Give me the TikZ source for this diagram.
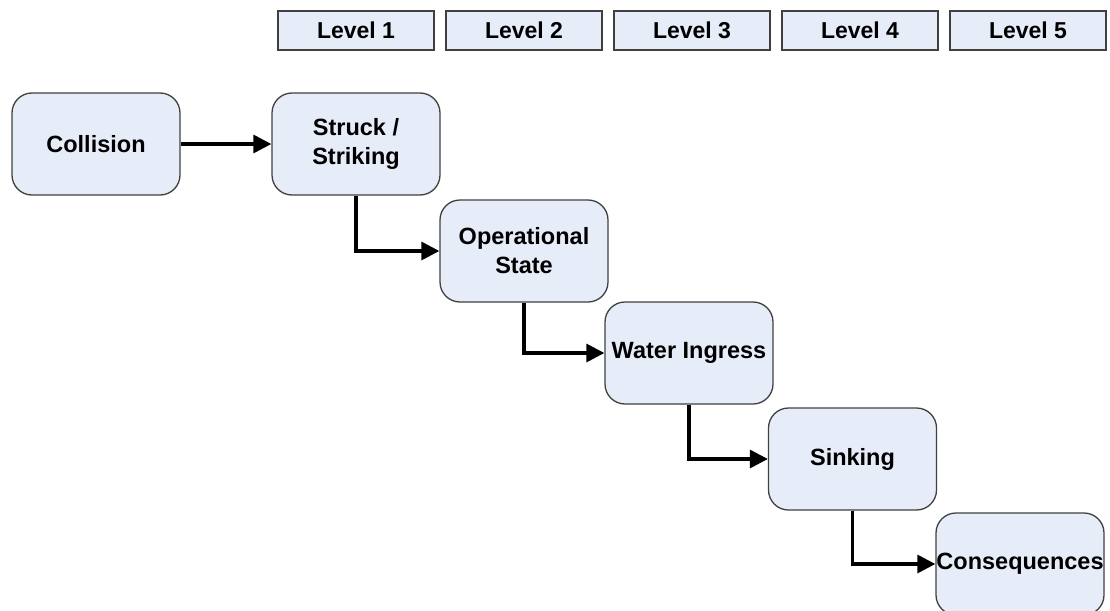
\documentclass[tikz,border=0pt]{standalone}
\usepackage{fontspec}
\setmainfont{Liberation Sans}
\usetikzlibrary{arrows.meta,positioning}
\definecolor{boxfill}{RGB}{231,237,248}
\definecolor{boxline}{RGB}{64,64,64}

\begin{document}
\begin{tikzpicture}[x=1pt,y=-1pt,
	stage/.style={draw=boxline, line width=1.3pt, fill=boxfill, rounded corners=20pt, minimum width=168pt, minimum height=102pt, align=center, inner sep=0pt, font=\fontsize{23.5}{29}\selectfont\bfseries},
	level/.style={draw=boxline, line width=1.4pt, fill=boxfill, minimum width=156pt, minimum height=39pt, inner sep=0pt, font=\fontsize{23}{27}\selectfont\bfseries},
	flow/.style={line width=3.2pt, -{Triangle[length=18pt,width=18pt]}}]
	\useasboundingbox (0,0) rectangle (1110,610);
	\clip (0,0) rectangle (1110,610);

	% level headers
	\foreach \i in {1,...,5}
		\node [level] (lev\i) at (356+168*\i-168,30.5) {Level \i};

	\node [stage] (collision) at (96,144) {Collision};
	\node [stage] (struck) at (356,144) {Struck /\\Striking};
	\node [stage] (oper) at (524,251) {Operational\\State};
	\node [stage] (water) at (689,353) {Water Ingress};
	\node [stage] (sinking) at (852.5,459) {Sinking};
	\node [stage] (conseq) at (1020,564) {Consequences};

	\draw [flow] (collision) -- (struck);
	\draw [flow] (struck.south) |- (oper.west);
	\draw [flow] (oper.south) |- (water.west);
	\draw [flow] (water.south) |- (sinking.west);
	\draw [flow] (sinking.south) |- (conseq.west);
\end{tikzpicture}
\end{document}
